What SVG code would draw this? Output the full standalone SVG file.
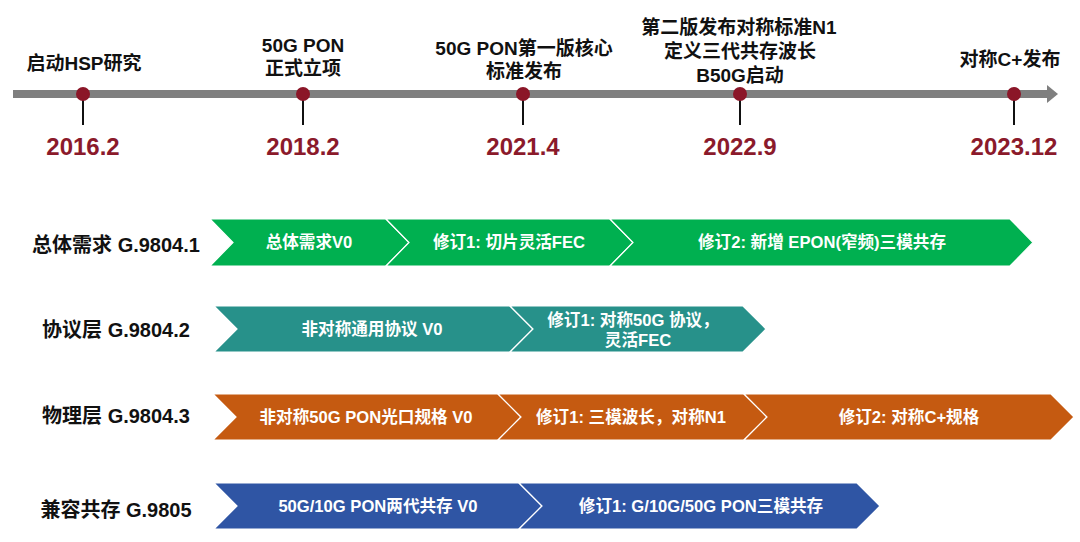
<svg xmlns="http://www.w3.org/2000/svg" width="1080" height="542" viewBox="0 0 1080 542">
<style>
text{font-family:"Liberation Sans","Noto Sans CJK SC",sans-serif;font-weight:bold;text-anchor:middle}
.ms{font-size:19px;fill:#111}
.dt{font-size:24px;fill:#8B1A2B}
.lb{font-size:20px;fill:#111}
.sg{font-size:16.6px;fill:#fff}
.seg{stroke:#fff;stroke-width:1.2}
.g{fill:#00B050}.t{fill:#27918A}.o{fill:#C55A11}.b{fill:#2F55A4}
.dot{fill:#8B1628}
.stem{stroke:#111;stroke-width:2}
</style>
<rect width="1080" height="542" fill="#fff"/>
<g id="timeline">
<rect x="13" y="90" width="1036" height="8" fill="#7F7F7F"/>
<polygon points="1047,85 1058,94 1047,103" fill="#7F7F7F"/>
</g>
<g id="m2016">
<line class="stem" x1="83" y1="94" x2="83" y2="125"/>
<circle class="dot" cx="83" cy="94" r="7"/>
<text class="ms" x="84" y="70">启动HSP研究</text>
<text class="dt" x="83" y="155">2016.2</text>
</g>
<g id="m2018">
<line class="stem" x1="303" y1="94" x2="303" y2="125"/>
<circle class="dot" cx="303" cy="94" r="7"/>
<text class="ms" x="303" y="52">50G PON</text>
<text class="ms" x="303" y="75">正式立项</text>
<text class="dt" x="303" y="155">2018.2</text>
</g>
<g id="m2021">
<line class="stem" x1="523" y1="94" x2="523" y2="125"/>
<circle class="dot" cx="523" cy="94" r="7"/>
<text class="ms" x="524" y="55">50G PON第一版核心</text>
<text class="ms" x="524" y="78">标准发布</text>
<text class="dt" x="523" y="155">2021.4</text>
</g>
<g id="m2022">
<line class="stem" x1="740" y1="94" x2="740" y2="125"/>
<circle class="dot" cx="740" cy="94" r="7"/>
<text class="ms" x="739" y="34">第二版发布对称标准N1</text>
<text class="ms" x="740" y="58">定义三代共存波长</text>
<text class="ms" x="740" y="82">B50G启动</text>
<text class="dt" x="740" y="155">2022.9</text>
</g>
<g id="m2023">
<line class="stem" x1="1014" y1="94" x2="1014" y2="125"/>
<circle class="dot" cx="1014" cy="94" r="7"/>
<text class="ms" x="1010" y="66">对称C+发布</text>
<text class="dt" x="1014" y="155">2023.12</text>
</g>
<g id="row1">
<text class="lb" x="116" y="252">总体需求 G.9804.1</text>
<polygon class="seg g" points="210,219 386,219 409,242.5 386,266 210,266 233,242.5"/>
<polygon class="seg g" points="386,219 610,219 633,242.5 610,266 386,266 409,242.5"/>
<polygon class="seg g" points="610,219 1010,219 1033,242.5 1010,266 610,266 633,242.5"/>
<text class="sg" x="309" y="248">总体需求V0</text>
<text class="sg" x="509" y="248">修订1: 切片灵活FEC</text>
<text class="sg" x="822" y="248">修订2: 新增 EPON(窄频)三模共存</text>
</g>
<g id="row2">
<text class="lb" x="116" y="337">协议层 G.9804.2</text>
<polygon class="seg t" points="214,306 510,306 533,329 510,352 214,352 237,329"/>
<polygon class="seg t" points="510,306 743,306 766,329 743,352 510,352 533,329"/>
<text class="sg" x="372" y="335">非对称通用协议 V0</text>
<text class="sg" x="633" y="326">修订1: 对称50G 协议，</text>
<text class="sg" x="638" y="346">灵活FEC</text>
</g>
<g id="row3">
<text class="lb" x="116" y="423">物理层 G.9804.3</text>
<polygon class="seg o" points="213,394 498,394 521,417 498,440 213,440 236,417"/>
<polygon class="seg o" points="498,394 744,394 767,417 744,440 498,440 521,417"/>
<polygon class="seg o" points="744,394 1051,394 1074,417 1051,440 744,440 767,417"/>
<text class="sg" x="366" y="423">非对称50G PON光口规格 V0</text>
<text class="sg" x="631" y="423">修订1: 三模波长，对称N1</text>
<text class="sg" x="909" y="423">修订2: 对称C+规格</text>
</g>
<g id="row4">
<text class="lb" x="116" y="517">兼容共存 G.9805</text>
<polygon class="seg b" points="214,483 519,483 542,506 519,529 214,529 237,506"/>
<polygon class="seg b" points="519,483 857,483 880,506 857,529 519,529 542,506"/>
<text class="sg" x="378" y="512">50G/10G PON两代共存 V0</text>
<text class="sg" x="701" y="512">修订1: G/10G/50G PON三模共存</text>
</g>
<g id="connectors"></g>
</svg>
